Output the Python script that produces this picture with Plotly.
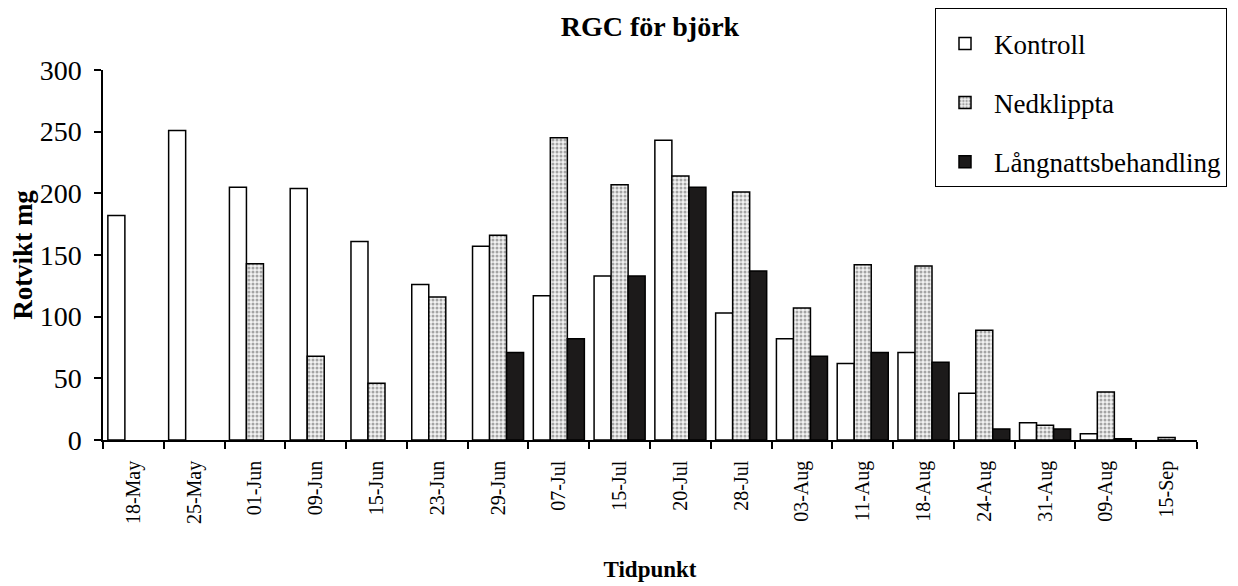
import plotly.graph_objects as go

categories = ["18-May", "25-May", "01-Jun", "09-Jun", "15-Jun", "23-Jun", "29-Jun",
              "07-Jul", "15-Jul", "20-Jul", "28-Jul", "03-Aug", "11-Aug", "18-Aug",
              "24-Aug", "31-Aug", "09-Aug", "15-Sep"]

kontroll = [182, 251, 205, 204, 161, 126, 157, 117, 133, 243, 103, 82, 62, 71, 38, 14, 5, None]
nedklippta = [None, None, 143, 68, 46, 116, 166, 245, 207, 214, 201, 107, 142, 141, 89, 12, 39, 2]
langnatt = [None, None, None, None, None, None, 71, 82, 133, 205, 137, 68, 71, 63, 9, 9, 1, None]

series_names = ["Kontroll", "Nedklippta", "Långnattsbehandling"]

FONT = "Liberation Serif"
W, H = 1230, 578  # page body has an 8px margin

fig = go.Figure()
fig.add_trace(go.Bar(
    x=categories, y=kontroll, name=series_names[0], legendgroup="a",
    marker=dict(color="white", line=dict(color="black", width=1.5)),
))
fig.add_trace(go.Bar(
    x=categories, y=nedklippta, name=series_names[1], legendgroup="b",
    marker=dict(color="white", line=dict(color="black", width=1.5),
                pattern=dict(shape=".", fgcolor="#555555", bgcolor="#f2f2f2",
                             size=4, solidity=0.45)),
))
fig.add_trace(go.Bar(
    x=categories, y=langnatt, name=series_names[2], legendgroup="c",
    marker=dict(color="#1c1a1a", line=dict(color="black", width=1.5)),
))

fig.update_layout(
    width=W, height=H,
    margin=dict(l=95, r=41, t=62, b=146, autoexpand=False),
    paper_bgcolor="white", plot_bgcolor="white",
    barmode="group", bargap=0.16, bargroupgap=0,
    font=dict(family=FONT, color="black"),
    title=dict(text="<b>RGC för björk</b>", x=642 / W, xanchor="center",
               y=1, yanchor="top", pad=dict(t=8),
               font=dict(size=28, family=FONT)),
    legend=dict(xref="container", yref="container",
                x=927 / W, y=1, xanchor="left", yanchor="top",
                bgcolor="white", bordercolor="black", borderwidth=1,
                font=dict(size=27, family=FONT), tracegroupgap=21,
                itemwidth=48,
                title=dict(text=" ", font=dict(size=8, family=FONT)),
                traceorder="grouped"),
    xaxis=dict(
        type="category", range=[-0.5, 17.5], automargin=False,
        showline=True, linecolor="black", linewidth=1.5,
        ticks="outside", ticklen=7, tickcolor="black", tickwidth=1.5,
        tickson="boundaries", tickangle=-90, ticklabelstandoff=11,
        tickfont=dict(size=20, family=FONT),
        showgrid=False, zeroline=False,
        title=dict(text="<b>Tidpunkt</b>", font=dict(size=23, family=FONT), standoff=38),
    ),
    yaxis=dict(
        range=[0, 300], tickvals=[0, 50, 100, 150, 200, 250, 300], automargin=False,
        showline=True, linecolor="black", linewidth=1.5,
        ticks="outside", ticklen=7, tickcolor="black", tickwidth=1.5,
        ticklabelstandoff=7,
        tickfont=dict(size=28, family=FONT),
        showgrid=False, zeroline=False,
        title=dict(text="<b>Rotvikt mg</b>", font=dict(size=27, family=FONT), standoff=10),
    ),
)

fig.write_html("out.html")
